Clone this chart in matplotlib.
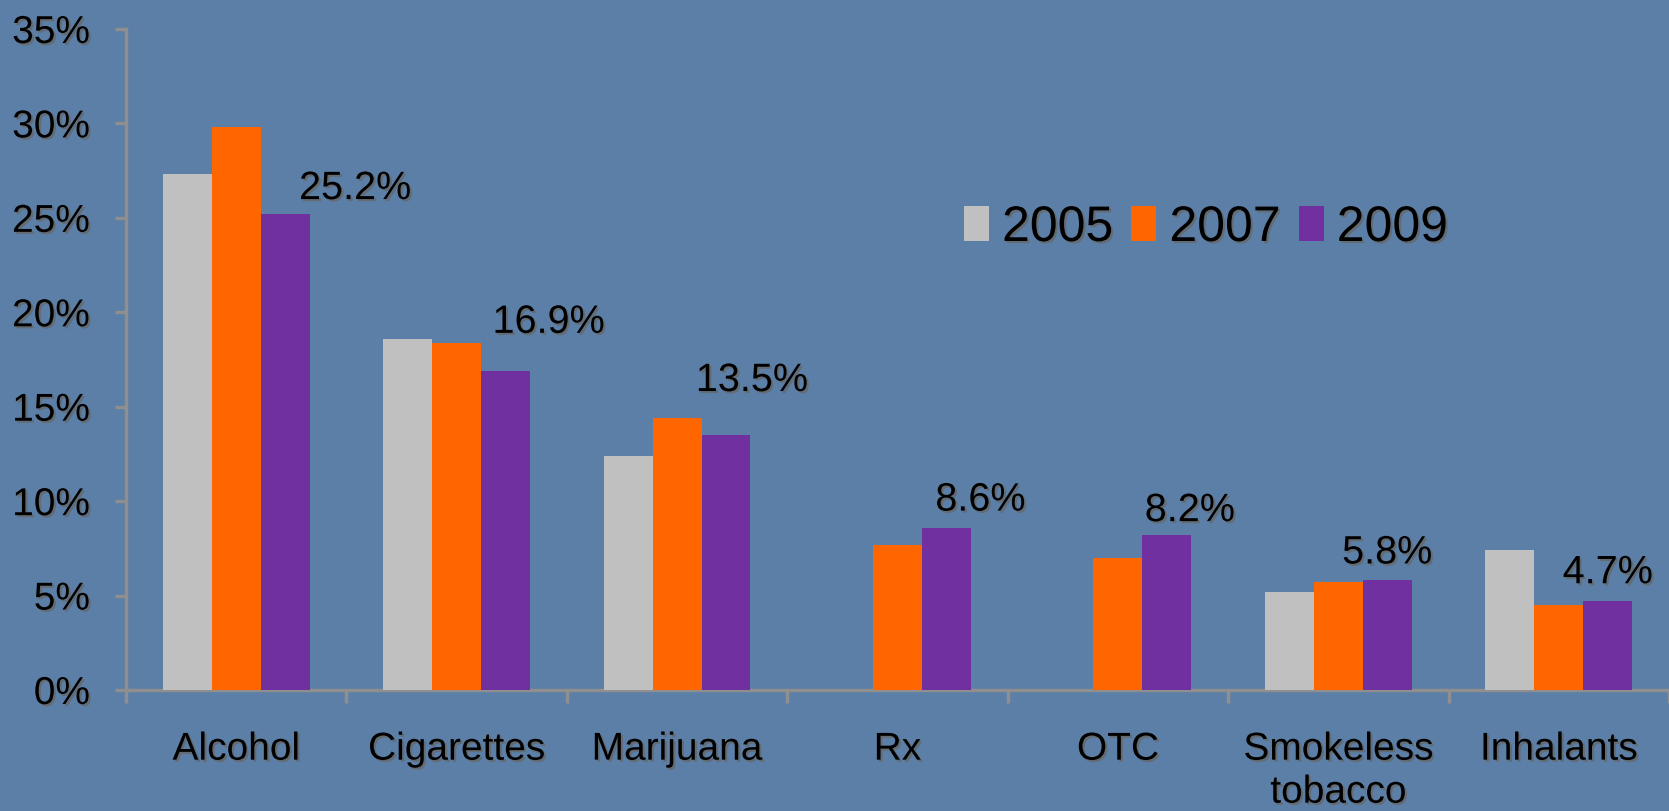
import numpy as np
import matplotlib
matplotlib.use("Agg")
import matplotlib.pyplot as plt
import matplotlib.patheffects as pe

categories = ["Alcohol", "Cigarettes", "Marijuana", "Rx", "OTC", "Smokeless\ntobacco", "Inhalants"]
years = ["2005", "2007", "2009"]
vals_2005 = [27.3, 18.6, 12.4, np.nan, np.nan, 5.2, 7.4]
vals_2007 = [29.8, 18.4, 14.4, 7.7, 7.0, 5.7, 4.5]
vals_2009 = [25.2, 16.9, 13.5, 8.6, 8.2, 5.8, 4.7]
yticks = [0, 5, 10, 15, 20, 25, 30, 35]

colors = ["#c0c0c0", "#ff6600", "#7030a0"]
bg = "#5b7fa7"
axis_grey = "#8f8f8f"
# hand placed label offsets (pixels right / pixels above bar top)
label_dx = [70, 43, 26, 34, 23, 0, 0]
label_dy = [15, 38, 44, 17, 14, 17, 18]

plt.rcParams['font.family'] = ['Liberation Sans', 'DejaVu Sans']
shadow = [pe.withSimplePatchShadow(offset=(1.5, -1.5), shadow_rgbFace='#666666', alpha=0.8)]

fig = plt.figure(figsize=(16.69, 8.11), dpi=100, facecolor=bg)
ax = fig.add_axes([126/1669, 121/811, 1 - 126/1669, (690-29)/811])
ax.set_facecolor(bg)

x = np.arange(len(categories))
w = 0.222
for i, (vals, c, yr) in enumerate(zip([vals_2005, vals_2007, vals_2009], colors, years)):
    ax.bar(x + (i - 1)*w, vals, w, color=c, label=yr, zorder=3)

for i in range(len(categories)):
    ax.annotate("%.1f%%" % vals_2009[i], xy=(x[i] + w, vals_2009[i]),
                xytext=(label_dx[i]*0.72, label_dy[i]*0.72), textcoords='offset points',
                ha='center', va='baseline', fontsize=28.5, color='black', path_effects=shadow)

ax.set_xlim(-0.5, len(categories) - 0.5)
ax.set_ylim(0, 35)
ax.set_yticks(yticks)
ax.set_yticklabels(["%d%%" % t for t in yticks])
ax.set_xticks(x)
ax.set_xticklabels(categories, linespacing=1.25)
ax.set_xticks(np.arange(-0.5, len(categories), 1), minor=True)

for s in ['top', 'right']:
    ax.spines[s].set_visible(False)
for s in ['left', 'bottom']:
    ax.spines[s].set_color(axis_grey)
    ax.spines[s].set_linewidth(2.5)

ax.tick_params(axis='y', length=8, width=2.5, color=axis_grey, pad=18, labelsize=28)
ax.tick_params(axis='x', which='major', length=0, pad=30, labelsize=28)
ax.tick_params(axis='x', which='minor', length=9, width=2.5, color=axis_grey)
for lab in ax.get_xticklabels() + ax.get_yticklabels():
    lab.set_path_effects(shadow)

leg = fig.legend(loc='center left', bbox_to_anchor=(964/1669, 1 - 228/811), ncol=3,
                 frameon=False, fontsize=36, handlelength=0.5, handleheight=0.7,
                 handletextpad=0.26, columnspacing=0.36, borderpad=0, borderaxespad=0)
for t in leg.get_texts():
    t.set_path_effects(shadow)

fig.savefig("out.png", dpi=100, facecolor=bg)
